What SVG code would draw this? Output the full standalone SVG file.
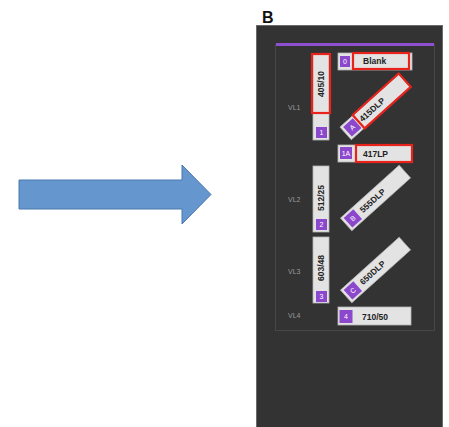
<svg xmlns="http://www.w3.org/2000/svg" width="449" height="427" viewBox="0 0 449 427">
<style>
.bar{fill:#e3e3e3;stroke:#b5b5b5;stroke-width:0.8}
.sq{fill:#8c48cc}
.red{fill:none;stroke:#e8231c;stroke-width:2.2}
.t{font-family:"Liberation Sans",Arial,sans-serif;font-size:8.5px;font-weight:bold;fill:#222}
.n{font-family:"Liberation Sans",Arial,sans-serif;font-size:7px;fill:#fff;text-anchor:middle}
.vl{font-family:"Liberation Sans",Arial,sans-serif;font-size:7px;fill:#9a9a9a}
</style>
<rect width="449" height="427" fill="#fff"/>
<g id="arrow">
<path d="M19,180 L182,180 L182,165 L211,194.5 L182,224 L182,209 L19,209 Z" fill="#6596cd" stroke="#4a78ad" stroke-width="1"/>
</g>
<text x="262" y="23" font-family="Liberation Sans,Arial,sans-serif" font-size="16" font-weight="bold" fill="#111">B</text>
<g id="panel">
<rect x="256.5" y="25.5" width="186" height="402" fill="#333" stroke="#6a6a6a" stroke-width="1"/>
<rect x="275.5" y="44.5" width="159" height="286" fill="none" stroke="#474747" stroke-width="1"/>
<line x1="276" y1="44.5" x2="434" y2="44.5" stroke="#8e4fd0" stroke-width="3"/>
<text class="vl" x="288" y="110">VL1</text>
<text class="vl" x="288" y="202">VL2</text>
<text class="vl" x="288" y="274">VL3</text>
<text class="vl" x="288" y="318">VL4</text>
</g>
<g id="f405">
<rect class="bar" x="313" y="54" width="16" height="86"/>
<rect class="sq" x="316" y="127" width="11" height="11"/>
<text class="n" x="321.5" y="135">1</text>
<rect class="red" x="312" y="54" width="18" height="59"/>
<text class="t" transform="translate(324,84) rotate(-90)" text-anchor="middle">405/10</text>
</g>
<g id="f512">
<rect class="bar" x="313" y="166" width="16" height="66"/>
<rect class="sq" x="316" y="219" width="11" height="11"/>
<text class="n" x="321.5" y="227">2</text>
<text class="t" transform="translate(324,198) rotate(-90)" text-anchor="middle">512/25</text>
</g>
<g id="f603">
<rect class="bar" x="313" y="237" width="16" height="66"/>
<rect class="sq" x="316" y="291" width="11" height="11"/>
<text class="n" x="321.5" y="299">3</text>
<text class="t" transform="translate(324,268) rotate(-90)" text-anchor="middle">603/48</text>
</g>
<g id="blank">
<rect class="bar" x="338" y="53" width="74" height="17"/>
<rect class="sq" x="340" y="56" width="10" height="11"/>
<text class="n" x="345" y="64">0</text>
<rect class="red" x="353" y="53" width="56" height="16"/>
<text class="t" x="363" y="64">Blank</text>
</g>
<g id="f415" transform="translate(375,107) rotate(-42)">
<rect class="bar" x="-39.5" y="-8.5" width="79" height="17"/>
<rect class="sq" x="-37" y="-6.5" width="13" height="13"/>
<text class="n" x="-30.5" y="2.5">A</text>
<rect class="red" x="-22" y="-9" width="62" height="18"/>
<text class="t" x="-4" y="3" text-anchor="middle">415DLP</text>
</g>
<g id="f417">
<rect class="bar" x="338" y="145" width="74" height="17"/>
<rect class="sq" x="340" y="147" width="12" height="12"/>
<text class="n" x="346" y="155.5">1A</text>
<rect class="red" x="356" y="145" width="56" height="17"/>
<text class="t" x="363" y="157">417LP</text>
</g>
<g id="f555" transform="translate(375.5,198) rotate(-42)">
<rect class="bar" x="-39.5" y="-8.5" width="79" height="17"/>
<rect class="sq" x="-37" y="-6.5" width="13" height="13"/>
<text class="n" x="-30.5" y="2.5">B</text>
<text class="t" x="-4" y="3" text-anchor="middle">555DLP</text>
</g>
<g id="f650" transform="translate(375.5,270) rotate(-42)">
<rect class="bar" x="-39.5" y="-8.5" width="79" height="17"/>
<rect class="sq" x="-37" y="-6.5" width="13" height="13"/>
<text class="n" x="-30.5" y="2.5">C</text>
<text class="t" x="-4" y="3" text-anchor="middle">650DLP</text>
</g>
<g id="f710">
<rect class="bar" x="338" y="307" width="73" height="18"/>
<rect class="sq" x="339.5" y="310" width="13" height="13"/>
<text class="n" x="346" y="319">4</text>
<text class="t" x="375" y="320" text-anchor="middle">710/50</text>
</g>
<g id="connectors"></g>
</svg>
